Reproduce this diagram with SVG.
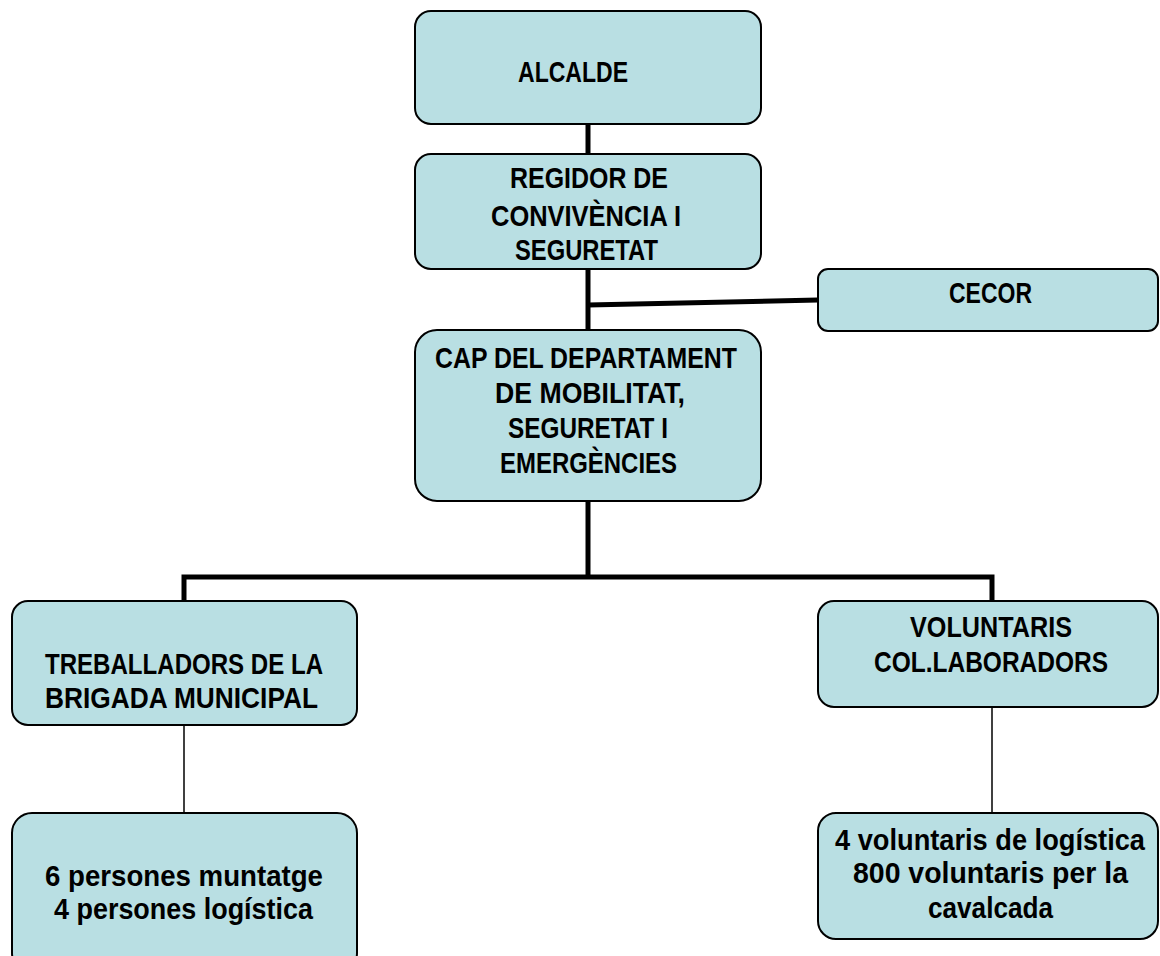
<svg xmlns="http://www.w3.org/2000/svg" width="1160" height="956" viewBox="0 0 1160 956">
<style>
.box{fill:#b9dfe3;stroke:#000;stroke-width:2}
.t{font-family:"Liberation Sans",Arial,sans-serif;font-weight:bold;font-size:30px;fill:#000;text-anchor:middle}
.thick{fill:none;stroke:#000;stroke-width:5}
.thin{fill:none;stroke:#000;stroke-width:1.5}
</style>
<rect width="1160" height="956" fill="#fff"/>
<g id="connectors">
<path class="thick" d="M588,124V154"/>
<path class="thick" d="M588,269V330"/>
<path class="thick" d="M588,305L818,300"/>
<path class="thick" d="M588,501V577"/>
<path class="thick" d="M184,601V577H992V601"/>
<path class="thin" d="M184,725V813"/>
<path class="thin" d="M992,707V813"/>
</g>
<g id="alcalde">
<rect class="box" x="415" y="11" width="346" height="113" rx="16"/>
<text class="t" x="573" y="82" textLength="110" lengthAdjust="spacingAndGlyphs">ALCALDE</text>
</g>
<g id="regidor">
<rect class="box" x="415" y="154" width="346" height="115" rx="16"/>
<text class="t" x="589" y="188" textLength="158" lengthAdjust="spacingAndGlyphs">REGIDOR DE</text>
<text class="t" x="586" y="226" textLength="190" lengthAdjust="spacingAndGlyphs">CONVIVÈNCIA I</text>
<text class="t" x="586.5" y="260" textLength="143" lengthAdjust="spacingAndGlyphs">SEGURETAT</text>
</g>
<g id="cecor">
<rect class="box" x="818" y="269" width="340" height="62" rx="10"/>
<text class="t" x="990.5" y="303" textLength="83" lengthAdjust="spacingAndGlyphs">CECOR</text>
</g>
<g id="cap">
<rect class="box" x="415" y="330" width="346" height="171" rx="22"/>
<text class="t" x="586" y="368" textLength="302" lengthAdjust="spacingAndGlyphs">CAP DEL DEPARTAMENT</text>
<text class="t" x="590" y="403" textLength="190" lengthAdjust="spacingAndGlyphs">DE MOBILITAT,</text>
<text class="t" x="588" y="438" textLength="160" lengthAdjust="spacingAndGlyphs">SEGURETAT I</text>
<text class="t" x="588.5" y="473" textLength="177" lengthAdjust="spacingAndGlyphs">EMERGÈNCIES</text>
</g>
<g id="treballadors">
<rect class="box" x="12" y="601" width="345" height="124" rx="16"/>
<text class="t" x="184" y="674" textLength="278" lengthAdjust="spacingAndGlyphs">TREBALLADORS DE LA</text>
<text class="t" x="181.5" y="708" textLength="273" lengthAdjust="spacingAndGlyphs">BRIGADA MUNICIPAL</text>
</g>
<g id="voluntaris">
<rect class="box" x="818" y="601" width="340" height="106" rx="16"/>
<text class="t" x="991" y="637" textLength="162" lengthAdjust="spacingAndGlyphs">VOLUNTARIS</text>
<text class="t" x="991" y="672" textLength="234" lengthAdjust="spacingAndGlyphs">COL.LABORADORS</text>
</g>
<g id="persones">
<rect class="box" x="12" y="813" width="345" height="160" rx="20"/>
<text class="t" x="184" y="886" textLength="278" lengthAdjust="spacingAndGlyphs">6 persones muntatge</text>
<text class="t" x="183.5" y="919" textLength="259" lengthAdjust="spacingAndGlyphs">4 persones logística</text>
</g>
<g id="voluntaris-detall">
<rect class="box" x="818" y="813" width="340" height="126" rx="18"/>
<text class="t" x="990" y="850" textLength="310" lengthAdjust="spacingAndGlyphs">4 voluntaris de logística</text>
<text class="t" x="990.5" y="883" textLength="275" lengthAdjust="spacingAndGlyphs">800 voluntaris per la</text>
<text class="t" x="990.5" y="918" textLength="125" lengthAdjust="spacingAndGlyphs">cavalcada</text>
</g>
</svg>
